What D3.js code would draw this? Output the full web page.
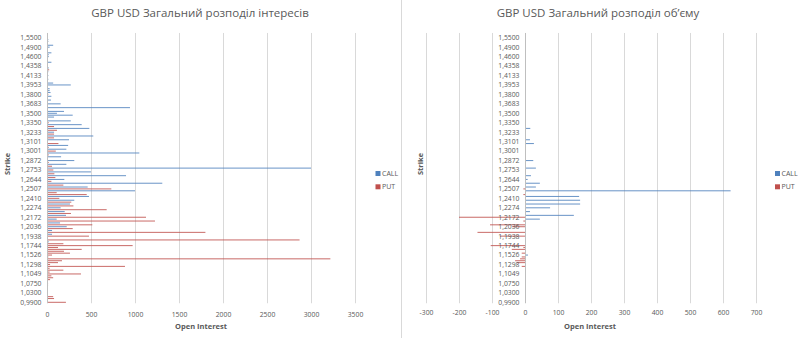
<!DOCTYPE html>
<html>
<head>
<meta charset="utf-8">
<script src="https://cdn.jsdelivr.net/npm/d3@7"></script>
<style>
  body { margin: 0; background: #fff; }
  svg text { font-family: "Open Sans", "Noto Sans", sans-serif; fill: #595959; }
</style>
</head>
<body>
<svg id="chart" width="800" height="338"></svg>
<script>
// Strike rows, from the lowest strike (bottom) to the highest (top)
const strikes = [
  "0,9900","1,0000","1,0100","1,0150","1,0200",
  "1,0300","1,0400","1,0500","1,0600","1,0650",
  "1,0750","1,0800","1,0850","1,0900","1,1000",
  "1,1049","1,1100","1,1150","1,1200","1,1250",
  "1,1298","1,1350","1,1400","1,1450","1,1500",
  "1,1526","1,1550","1,1600","1,1650","1,1700",
  "1,1744","1,1800","1,1850","1,1875","1,1900",
  "1,1938","1,1950","1,1975","1,2000","1,2018",
  "1,2036","1,2050","1,2100","1,2125","1,2150",
  "1,2172","1,2200","1,2225","1,2250","1,2260",
  "1,2274","1,2300","1,2330","1,2350","1,2380",
  "1,2410","1,2432","1,2450","1,2475","1,2490",
  "1,2507","1,2540","1,2575","1,2600","1,2620",
  "1,2644","1,2670","1,2690","1,2710","1,2730",
  "1,2753","1,2780","1,2800","1,2825","1,2850",
  "1,2872","1,2900","1,2925","1,2950","1,2975",
  "1,3001","1,3025","1,3050","1,3075","1,3090",
  "1,3101","1,3125","1,3150","1,3175","1,3200",
  "1,3233","1,3250","1,3275","1,3300","1,3325",
  "1,3350","1,3375","1,3400","1,3450","1,3475",
  "1,3500","1,3550","1,3600","1,3625","1,3650",
  "1,3683","1,3700","1,3725","1,3750","1,3775",
  "1,3800","1,3825","1,3850","1,3900","1,3925",
  "1,3953","1,4000","1,4025","1,4050","1,4100",
  "1,4133","1,4150","1,4200","1,4250","1,4300",
  "1,4358","1,4400","1,4450","1,4500","1,4550",
  "1,4600","1,4650","1,4700","1,4750","1,4800",
  "1,4900","1,5000","1,5100","1,5200","1,5300",
  "1,5500","1,6000","1,6500"
];

// Open interest per strike row
const callOI = [
  0,0,0,0,10,      0,8,0,0,0,       0,0,0,0,0,       0,0,0,0,0,
  0,0,0,0,0,       0,0,0,0,0,       0,0,20,0,0,      0,57,0,57,0,
  224,0,148,0,110, 0,216,0,201,0,   155,0,261,0,310, 0,477,0,0,1000,
  0,462,0,1310,0,  197,0,898,0,500, 0,3000,0,220,0,  310,0,160,0,1049,
  0,220,0,240,0,   0,250,0,526,0,   80,0,481,0,394,  0,270,0,80,292,
  113,193,0,943,0, 155,0,45,0,50,   0,40,30,30,0,    270,70,0,15,0,
  15,0,15,0,20,    0,0,50,0,0,      20,20,50,0,0,    30,70,0,15,15,
  10,10,10
];
const putOI = [
  215,0,80,70,0,   0,0,10,0,12,     12,0,35,70,50,   386,30,186,30,886,
  35,125,170,3220,15, 57,261,193,394,125, 973,186,0,2870,0, 477,0,1800,0,292,
  0,515,0,1227,0,  1125,0,272,0,678, 0,300,0,276,0,  140,0,451,110,0,
  731,0,186,0,50,  0,95,0,84,0,     72,0,57,0,20,    0,0,0,20,0,
  100,0,20,0,130,  0,0,80,0,80,     0,113,0,80,0,    20,0,0,0,0,
  0,0,0,0,0,       0,0,0,0,0,       15,0,0,0,0,      0,0,0,0,0,
  0,0,0,25,0,      0,0,0,0,0,       0,0,0,0,0,       0,0,0,0,0,
  0,0,0
];

// Traded volume per strike row (puts plotted to the left of zero)
const callVol = [
  0,0,0,0,0,       0,0,0,0,0,       0,0,0,0,0,       0,0,0,0,0,
  0,0,0,0,0,       9,0,0,0,0,       0,0,0,0,0,       0,0,0,0,0,
  0,0,0,0,45,      0,148,0,15,0,    76,0,167,0,167,  0,164,0,0,623,
  0,33,0,45,0,     8,0,18,0,0,      0,33,0,0,0,      25,0,0,0,3,
  0,0,0,0,27,      0,15,0,3,0,      0,0,16,0,0,      0,0,0,0,0,
  0,0,0,0,0,       0,0,0,0,0,       0,0,0,0,0,       0,0,0,0,0,
  0,0,0,0,0,       0,0,0,0,0,       0,0,0,0,0,       0,0,0,0,0,
  0,0,0
];
const putVol = [
  0,0,0,0,0,       0,0,0,0,0,       0,0,0,0,0,       0,0,0,0,-10,
  0,-25,-30,-15,-10, 0,-10,0,-40,-5, -104,0,0,0,0,  -76,0,-144,0,0,
  -39,-106,0,-5,0, -200,0,0,0,0,    0,0,0,0,0,       0,0,-5,0,0,
  -5,0,0,0,0,      0,0,0,0,0,       0,0,0,0,0,       0,0,0,0,0,
  0,0,0,0,0,       0,0,0,0,0,       0,0,0,0,0,       0,0,0,0,0,
  0,0,0,0,0,       0,0,0,0,0,       0,0,0,0,0,       0,0,0,0,0,
  0,0,0,0,0,       0,0,0,0,0,       0,0,0,0,0,       0,0,0,0,0,
  0,0,0
];

const oiTicks = [0, 500, 1000, 1500, 2000, 2500, 3000, 3500];
const volTicks = [-300, -200, -100, 0, 100, 200, 300, 400, 500, 600, 700];
const seriesNames = ["CALL", "PUT"];
const titles = ["GBP USD Загальний розподіл інтересів", "GBP USD Загальний розподіл об’єму"];

const colors = { CALL: "#4f81bd", PUT: "#c0504d" };
const gridColor = "#d9d9d9";
const svg = d3.select("#chart");

const rows = strikes.map((s, i) => ({ strike: s, callOI: callOI[i], putOI: putOI[i], callVol: callVol[i], putVol: putVol[i] }));

const y = d3.scaleBand().domain(strikes).range([303.25, 32.97]);
const barH = y.bandwidth() * 0.55;
const barY = d => y(d.strike) + (y.bandwidth() - barH) / 2;
const labelStrikes = strikes.filter((d, i) => i % 5 === 0);

// divider between the two panels
svg.append("line").attr("x1", 401.5).attr("x2", 401.5).attr("y1", 0).attr("y2", 338)
  .attr("stroke", gridColor).attr("stroke-width", 1);

function panel(opt) {
  const g = svg.append("g");
  const x = d3.scaleLinear().domain(opt.domain).range(opt.range);
  const [top, bottom] = [y.range()[1], y.range()[0]];

  // vertical gridlines
  g.append("g").selectAll("line").data(opt.ticks.filter(t => t !== 0)).join("line")
    .attr("x1", d => Math.round(x(d)) + 0.5).attr("x2", d => Math.round(x(d)) + 0.5)
    .attr("y1", top).attr("y2", bottom)
    .attr("stroke", gridColor).attr("stroke-width", 1);

  // bars: calls first, puts drawn over them
  [["CALL", opt.callKey], ["PUT", opt.putKey]].forEach(([name, key]) => {
    g.append("g").attr("fill-opacity", 0.82)
      .selectAll("rect").data(rows.filter(r => r[key] !== 0)).join("rect")
      .attr("x", d => Math.min(x(0), x(d[key])))
      .attr("width", d => Math.abs(x(d[key]) - x(0)))
      .attr("y", barY)
      .attr("height", barH)
      .attr("fill", colors[name]);
  });

  // category axis at zero
  const x0 = Math.round(x(0)) + 0.5;
  g.append("line").attr("x1", x0).attr("x2", x0).attr("y1", top).attr("y2", bottom)
    .attr("stroke", "#bfbfbf").attr("stroke-width", 1);

  const yAxis = d3.axisLeft(y).tickValues(labelStrikes).tickSize(0).tickPadding(6);
  const ya = g.append("g").attr("transform", `translate(${x0},0)`).call(yAxis);
  ya.select(".domain").remove();
  ya.selectAll("text").attr("font-size", 6.8).attr("dy", "0.35em").style("fill", "#595959");

  // value axis labels
  const xAxis = d3.axisBottom(x).tickValues(opt.ticks).tickFormat(d => String(d)).tickSize(0).tickPadding(0);
  const xa = g.append("g").attr("transform", `translate(0,${opt.xLabelY})`).call(xAxis);
  xa.select(".domain").remove();
  xa.selectAll("text").attr("font-size", 6.8).attr("dy", "0.35em").attr("y", 0).style("fill", "#595959");
  ya.attr("font-family", null);
  xa.attr("font-family", null);

  // titles
  g.append("text").attr("x", opt.titleX).attr("y", 17).attr("text-anchor", "middle")
    .attr("font-size", 11.5).text(opt.title);
  g.append("text").attr("x", opt.xTitleX).attr("y", 328.5).attr("text-anchor", "middle")
    .attr("font-size", 7.5).attr("font-weight", "bold").text("Open Interest");
  g.append("text").attr("transform", `translate(${opt.yTitleX},164) rotate(-90)`)
    .attr("text-anchor", "middle").attr("font-size", 7.5).attr("font-weight", "bold").text("Strike");

  // legend
  const lg = g.append("g").attr("transform", `translate(${opt.legendX},0)`);
  seriesNames.forEach((n, i) => {
    const ly = 173.5 + i * 13.3;
    lg.append("rect").attr("x", 0).attr("y", ly - 2.5).attr("width", 5).attr("height", 5).attr("fill", colors[n]);
    lg.append("text").attr("x", 6.5).attr("y", ly).attr("dy", "0.35em").attr("font-size", 7).text(n);
  });
}

panel({ domain: [0, 3500], range: [47, 355], ticks: oiTicks, callKey: "callOI", putKey: "putOI",
        xLabelY: 314.5, title: titles[0], titleX: 200, xTitleX: 201, yTitleX: 10, legendX: 375.5 });
panel({ domain: [-300, 700], range: [426, 756], ticks: volTicks, callKey: "callVol", putKey: "putVol",
        xLabelY: 313, title: titles[1], titleX: 598, xTitleX: 590, yTitleX: 423, legendX: 775 });
</script>
</body>
</html>
